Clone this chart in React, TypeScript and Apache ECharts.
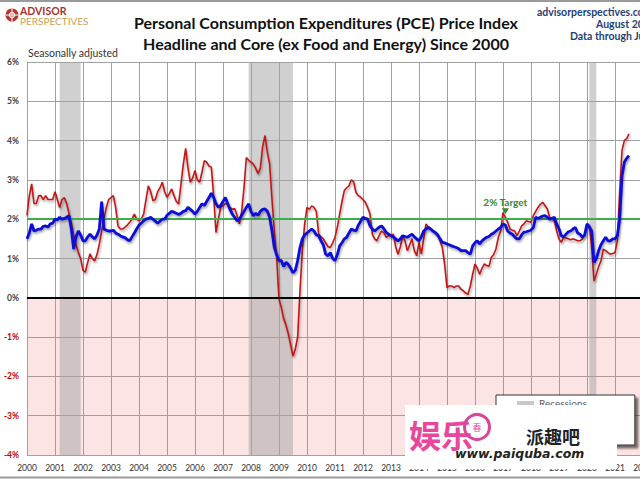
import React, { useEffect, useRef } from "react";
import * as echarts from "echarts";

const START_YEAR = 2000;

// Headline PCE, year-over-year %, monthly from Jan 2000
const headlinePce = [
  2.1, 2.6, 2.9, 2.4, 2.4, 2.6, 2.6, 2.5, 2.6, 2.5, 2.5, 2.5,
  2.7, 2.5, 2.3, 2.5, 2.55, 2.4, 2.15, 1.9, 1.6, 1.35, 1.15, 1.0,
  0.7, 0.65, 0.9, 1.12, 1.0, 0.94, 1.1, 1.37, 1.7, 2.0, 2.3, 2.5,
  2.55, 2.6, 2.3, 1.83, 1.75, 1.75, 1.8, 1.85, 1.92, 2.0, 2.13, 2.0,
  1.96, 2.0, 2.13, 2.5, 2.85, 2.7, 2.47, 2.5, 2.7, 2.8, 2.94, 2.7,
  2.56, 2.65, 2.77, 2.6, 2.45, 2.39, 2.9, 3.4, 3.8, 3.3, 2.94, 3.05,
  3.24, 3.0, 2.94, 3.2, 3.49, 3.45, 3.35, 3.32, 2.6, 1.66, 2.0, 2.3,
  2.34, 2.4, 2.38, 2.3, 2.25, 2.27, 2.1, 1.88, 2.2, 2.8, 3.57, 3.5,
  3.45, 3.4, 3.3, 3.16, 3.3, 3.85, 4.13, 3.7, 3.4, 2.5, 1.7, 1.03,
  -0.03, -0.25, -0.53, -0.7, -0.92, -1.2, -1.48, -1.3, -1.0, 0.18, 1.2, 1.88,
  2.3, 2.25, 2.34, 2.3, 2.2, 1.63, 1.55, 1.5, 1.4, 1.3, 1.28, 1.4,
  1.54, 1.8, 2.13, 2.45, 2.73, 2.8, 2.85, 3.0, 2.95, 2.68, 2.6, 2.56,
  2.5, 2.43, 2.3, 2.13, 1.62, 1.5, 1.45, 1.6, 1.7, 1.65, 1.54, 1.58,
  1.6, 1.62, 1.3, 1.11, 1.3, 1.58, 1.45, 1.2, 1.35, 1.5, 1.2, 1.07,
  1.41, 1.11, 1.5, 1.88, 1.8, 1.75, 1.7, 1.65, 1.62, 1.45, 1.28, 0.85,
  0.26, 0.3, 0.3, 0.26, 0.3, 0.3, 0.22, 0.18, 0.12, 0.09, 0.3, 0.6,
  0.86, 0.75, 0.6, 0.75, 0.86, 0.82, 0.8, 1.03, 1.1, 1.25, 1.54, 1.7,
  2.17, 2.05, 1.92, 1.75, 1.72, 1.7, 1.58, 1.7, 1.83, 1.88, 1.96, 1.94,
  1.92, 2.09, 2.2, 2.3, 2.38, 2.43, 2.35, 2.26, 2.05, 2.0, 1.96, 1.7,
  1.5, 1.41, 1.54, 1.52, 1.5, 1.48, 1.5, 1.48, 1.45, 1.45, 1.5, 1.62,
  1.88, 1.85, 1.28, 0.43, 0.6, 0.8, 0.94, 1.24, 1.2, 1.15, 1.11, 1.13,
  1.15, 1.45, 2.7, 3.75, 4.0, 4.05, 4.17,
];

// Core PCE (ex food and energy), year-over-year %, monthly from Jan 2000
const corePce = [
  1.5, 1.65, 1.88, 1.7, 1.72, 1.75, 1.75, 1.82, 1.83, 1.8, 1.88, 1.9,
  2.0, 1.98, 2.05, 2.0, 2.02, 2.05, 2.09, 1.75, 1.24, 1.55, 1.7, 1.6,
  1.45, 1.45, 1.55, 1.62, 1.55, 1.5, 1.6, 1.75, 2.45, 1.75, 1.72, 1.7,
  1.7, 1.72, 1.65, 1.62, 1.58, 1.55, 1.53, 1.48, 1.45, 1.55, 1.65, 1.75,
  1.85, 1.9, 1.96, 2.0, 2.02, 2.05, 2.0, 1.95, 1.9, 1.95, 2.0, 2.0,
  2.1, 2.15, 2.2, 2.18, 2.15, 2.12, 2.15, 2.2, 2.22, 2.3, 2.25, 2.2,
  2.13, 2.2, 2.3, 2.39, 2.35, 2.45, 2.55, 2.66, 2.55, 2.4, 2.3, 2.35,
  2.45, 2.55, 2.4, 2.25, 2.13, 2.05, 1.96, 2.0, 2.1, 2.2, 2.3, 2.39,
  2.2, 2.09, 2.15, 2.1, 2.2, 2.25, 2.26, 2.2, 2.05, 1.7, 1.28, 1.1,
  0.94, 0.95, 0.8, 0.9, 0.85, 0.75, 0.64, 0.7, 0.95, 1.28, 1.5, 1.6,
  1.65, 1.7, 1.75, 1.7, 1.6, 1.58, 1.45, 1.35, 1.11, 1.07, 1.15, 1.0,
  0.95, 1.1, 1.32, 1.4, 1.5, 1.54, 1.65, 1.75, 1.72, 1.7, 1.85, 1.95,
  2.05, 2.02, 2.0, 1.83, 1.75, 1.7, 1.75, 1.8, 1.83, 1.75, 1.66, 1.62,
  1.58, 1.55, 1.5, 1.45, 1.5, 1.58, 1.56, 1.54, 1.58, 1.62, 1.55, 1.5,
  1.45, 1.55, 1.7, 1.75, 1.79, 1.75, 1.7, 1.66, 1.6, 1.5, 1.41, 1.4,
  1.37, 1.35, 1.32, 1.3, 1.28, 1.25, 1.2, 1.2, 1.2, 1.15, 1.11, 1.32,
  1.4, 1.45, 1.37, 1.45, 1.5, 1.54, 1.56, 1.62, 1.65, 1.7, 1.75, 1.79,
  1.88, 1.85, 1.7, 1.65, 1.62, 1.55, 1.5, 1.5, 1.6, 1.67, 1.68, 1.7,
  1.72, 1.79, 2.05, 2.02, 2.05, 2.08, 2.09, 2.05, 2.0, 2.02, 2.05, 1.88,
  1.75, 1.58, 1.55, 1.62, 1.68, 1.7, 1.75, 1.79, 1.65, 1.62, 1.54, 1.6,
  1.88, 1.8, 1.7, 0.9, 1.0, 1.2, 1.35, 1.45, 1.54, 1.45, 1.45, 1.5,
  1.5, 1.58, 2.0, 3.1, 3.45, 3.55, 3.62,
];

// Recessions as [start year, start month (1-12), end year, end month]
const recessions = [
  [2001, 3, 2001, 11],
  [2007, 12, 2009, 6],
  [2020, 2, 2020, 4],
];

const targetRate = 2;
const targetMarker = [2017, 2, 2.2]; // year, month, value near the headline peak
const X_MIN = 2000;
const X_MAX = 2022;
const Y_MIN = -4;
const Y_MAX = 6;

const toYear = (y: number, m: number) => y + (m - 1) / 12;
const toPairs = (arr: number[]) => arr.map((v, i) => [START_YEAR + i / 12, v]);

const FONT = "Lato";

export default function App() {
  const ref = useRef<HTMLDivElement>(null);

  useEffect(() => {
    if (!ref.current) return;
    const chart = echarts.init(ref.current, null, { renderer: "svg" });
    const lineShadow = {
      shadowColor: "rgba(0,0,0,0.35)",
      shadowBlur: 2,
      shadowOffsetX: 1,
      shadowOffsetY: 2,
    };
    const option: any = {
      animation: false,
      backgroundColor: "#ffffff",
      textStyle: { fontFamily: FONT },
      grid: { left: 27, top: 62, width: 616, height: 393 },
      xAxis: {
        type: "value",
        min: X_MIN,
        max: X_MAX,
        interval: 1,
        axisLine: { show: true, lineStyle: { color: "#a0a0a0" } },
        axisTick: { show: false },
        splitLine: { show: true, lineStyle: { color: "#a0a0a0", width: 1 } },
        axisLabel: {
          formatter: (v: number) => String(v),
          color: "#333333",
          fontSize: 8.5,
          margin: 8,
          fontFamily: FONT,
        },
      },
      yAxis: {
        type: "value",
        min: Y_MIN,
        max: Y_MAX,
        interval: 1,
        axisLine: { show: true, lineStyle: { color: "#a0a0a0" } },
        axisTick: { show: false },
        splitLine: { show: true, lineStyle: { color: "#a0a0a0", width: 1 } },
        axisLabel: {
          formatter: (v: number) => v + "%",
          color: (v: any) => (Number(v) < 0 ? "#c00000" : "#404040"),
          fontSize: 8.5,
          fontWeight: "bold",
          margin: 8,
          fontFamily: FONT,
        },
      },
      legend: {
        data: [{ name: "Recessions", icon: "rect" }],
        left: 496,
        top: 395,
        orient: "vertical",
        itemWidth: 17,
        itemHeight: 4,
        padding: [3, 48, 37, 21],
        backgroundColor: "#ffffff",
        borderColor: "#333333",
        borderWidth: 1,
        shadowColor: "rgba(0,0,0,0.55)",
        shadowBlur: 2,
        shadowOffsetX: 3,
        shadowOffsetY: 3,
        textStyle: { color: "#555555", fontSize: 10, fontFamily: FONT },
        selectedMode: false,
        z: 10,
      },
      series: [
        {
          name: "Negative",
          type: "line",
          data: [],
          z: 1,
          silent: true,
          markArea: {
            silent: true,
            itemStyle: { color: "rgba(240,120,120,0.2)" },
            data: [[{ yAxis: Y_MIN }, { yAxis: 0 }]],
          },
        },
        {
          name: "Recessions",
          type: "line",
          data: [],
          color: "#c8c8c8",
          z: 2,
          silent: true,
          markArea: {
            silent: true,
            itemStyle: { color: "rgba(165,165,165,0.52)" },
            data: recessions.map((r) => [
              { xAxis: toYear(r[0], r[1]) },
              { xAxis: toYear(r[2], r[3]) + 1 / 12 },
            ]),
          },
        },
        {
          name: "Reference",
          type: "line",
          data: [],
          z: 3,
          silent: true,
          markLine: {
            silent: true,
            symbol: "none",
            label: { show: false },
            data: [
              { yAxis: 0, lineStyle: { color: "#000000", width: 2, type: "solid" } },
              { yAxis: targetRate, lineStyle: { color: "#3cae4a", width: 2, type: "solid" } },
            ],
          },
        },
        {
          name: "Headline PCE",
          type: "line",
          data: toPairs(headlinePce),
          showSymbol: false,
          symbol: "none",
          z: 4,
          lineStyle: { color: "#c01818", width: 1.6, ...lineShadow },
          itemStyle: { color: "#c01818" },
        },
        {
          name: "Core PCE",
          type: "line",
          data: toPairs(corePce),
          showSymbol: false,
          symbol: "none",
          z: 5,
          lineStyle: { color: "#0a0ad8", width: 2.8, ...lineShadow },
          itemStyle: { color: "#0a0ad8" },
          markPoint: {
            silent: true,
            symbol: "triangle",
            symbolRotate: 180,
            symbolSize: [7, 6],
            itemStyle: { color: "#2e8b2e" },
            label: {
              show: true,
              position: "top",
              distance: 1,
              formatter: "2% Target",
              color: "#2e8b2e",
              fontWeight: "bold",
              fontSize: 10,
              fontFamily: FONT,
            },
            data: [{ coord: [toYear(targetMarker[0], targetMarker[1]), targetMarker[2]] }],
          },
        },
      ],
      graphic: [
        { type: "line", shape: { x1: 0, y1: 1, x2: 720, y2: 1 }, style: { stroke: "#9a9a9a", lineWidth: 2 } },
        { type: "line", shape: { x1: 0, y1: 477.5, x2: 720, y2: 477.5 }, style: { stroke: "#9a9a9a", lineWidth: 2 } },
        { type: "circle", shape: { cx: 12, cy: 15, r: 6.5 }, style: { fill: "#b2382f" } },
        { type: "ring", shape: { cx: 12, cy: 15, r: 3.2, r0: 2 }, style: { fill: "#ffffff" } },
        { type: "line", shape: { x1: 12, y1: 8.5, x2: 12, y2: 21.5 }, style: { stroke: "#ffffff", lineWidth: 1 } },
        { type: "line", shape: { x1: 5.5, y1: 15, x2: 18.5, y2: 15 }, style: { stroke: "#ffffff", lineWidth: 1 } },
        {
          type: "text", x: 20, y: 11,
          style: { text: "ADVISOR", fontSize: 10.5, fontWeight: "bold", fill: "#a9322c", fontFamily: FONT, verticalAlign: "middle" },
        },
        {
          type: "text", x: 20, y: 21,
          style: { text: "PERSPECTIVES", fontSize: 10, fill: "#c9a055", fontFamily: FONT, verticalAlign: "middle" },
        },
        {
          type: "text", x: 28, y: 53,
          style: { text: "Seasonally adjusted", fontSize: 10.5, fill: "#333333", fontFamily: FONT, verticalAlign: "middle" },
        },
        {
          type: "text", x: 326, y: 22,
          style: {
            text: "Personal Consumption Expenditures (PCE) Price Index",
            fontSize: 16, fontWeight: "bold", fill: "#111111", fontFamily: FONT, align: "center", verticalAlign: "middle",
          },
        },
        {
          type: "text", x: 326, y: 43,
          style: {
            text: "Headline and Core (ex Food and Energy) Since 2000",
            fontSize: 16, fontWeight: "bold", fill: "#111111", fontFamily: FONT, align: "center", verticalAlign: "middle",
          },
        },
        {
          type: "text", x: 537, y: 12,
          style: { text: "advisorperspectives.com", fontSize: 10.5, fontWeight: "bold", fill: "#1f3f78", fontFamily: FONT, verticalAlign: "middle" },
        },
        {
          type: "text", x: 596, y: 24,
          style: { text: "August 2021", fontSize: 10.5, fontWeight: "bold", fill: "#1f3f78", fontFamily: FONT, verticalAlign: "middle" },
        },
        {
          type: "text", x: 570, y: 36,
          style: { text: "Data through July 2021", fontSize: 10.5, fontWeight: "bold", fill: "#1f3f78", fontFamily: FONT, verticalAlign: "middle" },
        },
        // watermark overlay
        { type: "rect", z: 100, shape: { x: 405, y: 405, width: 212, height: 64 }, style: { fill: "#ffffff" } },
        {
          type: "text", z: 101, x: 409, y: 434,
          style: { text: "娱乐", fontSize: 32, fontWeight: "bold", fill: "#e8489c", fontFamily: "Noto Sans CJK SC", verticalAlign: "middle" },
        },
        { type: "circle", z: 101, shape: { cx: 477, cy: 427, r: 12.5 }, style: { fill: "none", stroke: "#d8489a", lineWidth: 3 } },
        {
          type: "text", z: 102, x: 477, y: 427,
          style: { text: "春", fontSize: 9, fill: "#e8489c", fontFamily: "Noto Sans CJK SC", align: "center", verticalAlign: "middle" },
        },
        {
          type: "text", z: 101, x: 526, y: 436,
          style: { text: "派趣吧", fontSize: 18, fontWeight: "bold", fill: "#222222", fontFamily: "Noto Sans CJK SC", verticalAlign: "middle" },
        },
        {
          type: "text", z: 101, x: 455, y: 453,
          style: { text: "www.paiquba.com", fontSize: 12.5, fontWeight: "bold", fontStyle: "italic", fill: "#222222", fontFamily: "DejaVu Sans", verticalAlign: "middle" },
        },
      ],
    };
    chart.setOption(option);
    return () => chart.dispose();
  }, []);

  return (
    <div
      style={{
        position: "fixed",
        left: 0,
        top: 0,
        width: 640,
        height: 479,
        overflow: "hidden",
        background: "#ffffff",
      }}
    >
      <div ref={ref} style={{ width: 720, height: 479 }} />
    </div>
  );
}
